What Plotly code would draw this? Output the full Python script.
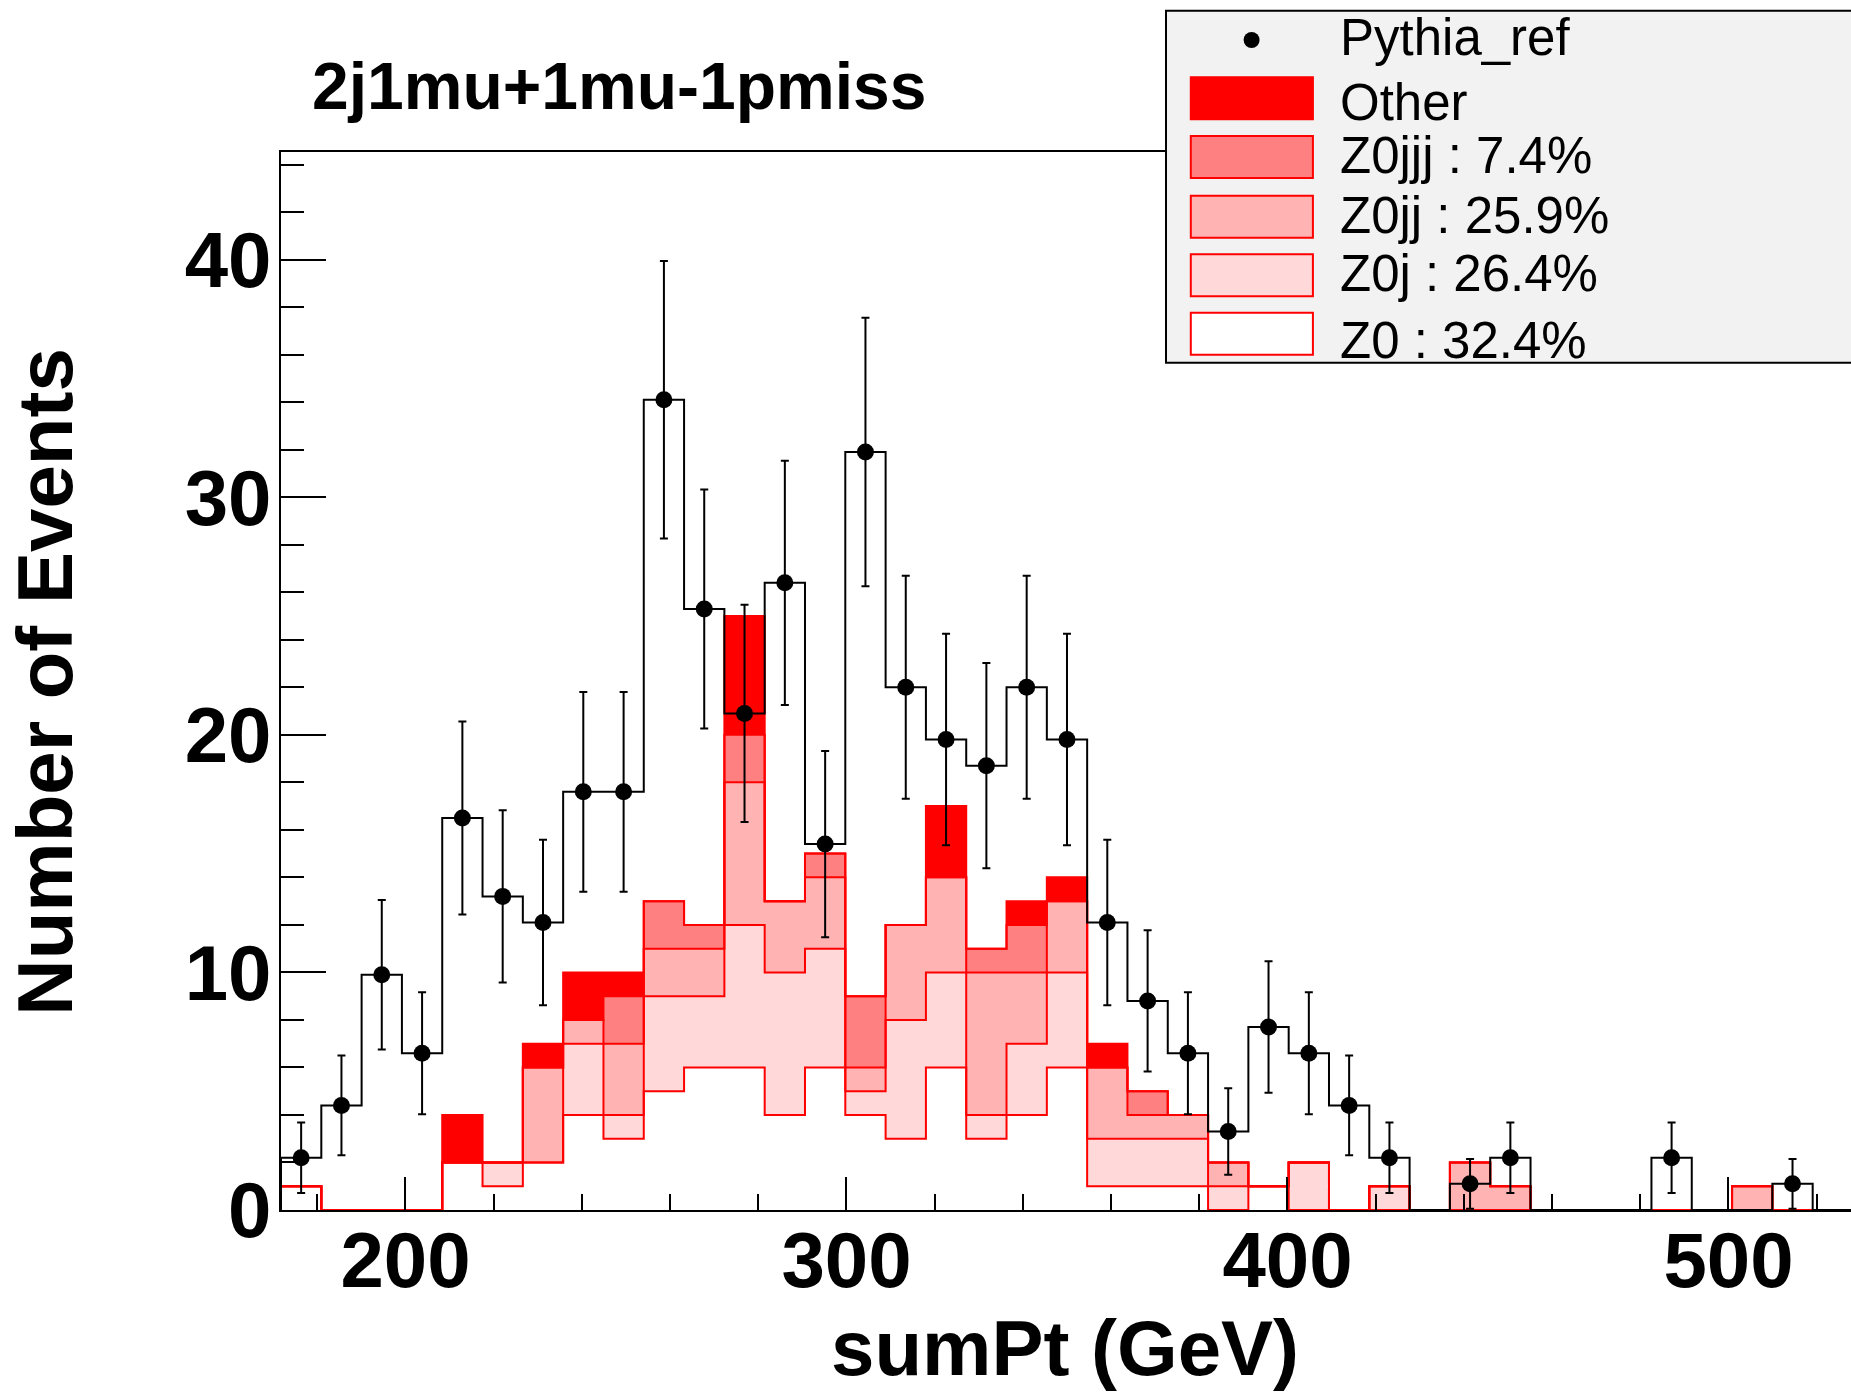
import plotly.graph_objects as go

# ---------------- data ----------------
bin_lo = 171.77          # left edge of first bin (GeV)
bin_w = 9.14             # bin width (GeV)
n_bins = 39

# Pythia_ref (data points) per bin
data_vals = [2.2, 4.4, 9.9, 6.6, 16.5, 13.2, 12.1, 17.6, 17.6, 34.1,
             25.3, 20.9, 26.4, 15.4, 31.9, 22.0, 19.8, 18.7, 22.0, 19.8,
             12.1, 8.8, 6.6, 3.3, 7.7, 6.6, 4.4, 2.2, 0.0, 1.1,
             2.2, 0.0, 0.0, 0.0, 2.2, 0.0, 0.0, 1.1, 0.0]
data_errs = [1.48, 2.10, 3.15, 2.57, 4.06, 3.63, 3.48, 4.20, 4.20, 5.84,
             5.03, 4.57, 5.14, 3.92, 5.65, 4.69, 4.45, 4.32, 4.69, 4.45,
             3.48, 2.97, 2.57, 1.82, 2.77, 2.57, 2.10, 1.48, 0.0, 1.05,
             1.48, 0.0, 0.0, 0.0, 1.48, 0.0, 0.0, 1.05, 0.0]

# stacked MC components per bin
z0 = [1, 0, 0, 0, 2, 1, 2, 4, 3, 5,
      6, 6, 4, 6, 4, 3, 6, 3, 4, 6,
      1, 1, 1, 0, 1, 0, 0, 0, 0, 0,
      0, 0, 0, 0, 0, 0, 0, 0, 0]
z0j = [0, 0, 0, 0, 0, 1, 0, 3, 1, 4,
       3, 6, 6, 5, 1, 5, 4, 1, 3, 4,
       2, 2, 2, 1, 0, 2, 0, 1, 0, 0,
       0, 0, 0, 0, 0, 0, 0, 0, 0]
z0jj = [0, 0, 0, 0, 0, 0, 4, 1, 3, 2,
        2, 6, 3, 3, 1, 4, 4, 6, 3, 3,
        3, 1, 1, 1, 0, 0, 0, 0, 0, 2,
        1, 0, 0, 0, 0, 0, 1, 0, 0]
z0jjj = [0, 0, 0, 0, 0, 0, 0, 0, 2, 2,
         1, 2, 0, 1, 3, 0, 0, 1, 2, 0,
         0, 1, 0, 0, 0, 0, 0, 0, 0, 0,
         0, 0, 0, 0, 0, 0, 0, 0, 0]
other = [0, 0, 0, 0, 2, 0, 1, 2, 1, 0,
         0, 5, 0, 0, 0, 0, 3, 0, 1, 1,
         1, 0, 0, 0, 0, 0, 0, 0, 0, 0,
         0, 0, 0, 0, 0, 0, 0, 0, 0]

layer_values = [z0, z0j, z0jj, z0jjj, other]
layer_colors = ["#FFFFFF", "#FFD9D9", "#FFB3B3", "#FF8080", "#FF0000"]

legend_labels = ["Pythia_ref", "Other", "Z0jjj : 7.4%", "Z0jj : 25.9%",
                 "Z0j : 26.4%", "Z0 : 32.4%"]
legend_box_colors = ["#FF0000", "#FF8080", "#FFB3B3", "#FFD9D9", "#FFFFFF"]

title_text = "2j1mu+1mu-1pmiss"
x_title = "sumPt (GeV)"
y_title = "Number of Events"

# ---------------- geometry ----------------
W, H = 1851, 1394
L, R, T, B = 281, 0, 152, 184
plot_w = W - L - R
plot_h = H - T - B
x_range = [171.77, 527.78]
y_range = [0, 44.53]

FONT = "Liberation Sans, Arial, Helvetica, sans-serif"


def pxx(xp):
    return (xp - L) / plot_w


def pxy(yp):
    return (H - B - yp) / plot_h


edges = [bin_lo + i * bin_w for i in range(n_bins + 1)]
centers = [bin_lo + (i + 0.5) * bin_w for i in range(n_bins)]


def step_xy(vals):
    xs = [edges[0]] + edges + [edges[-1]]
    ys = [0] + list(vals) + [vals[-1], 0]
    return xs, ys[: len(xs)]


# cumulative stacks
cums = []
run = [0] * n_bins
for lv in layer_values:
    run = [a + b for a, b in zip(run, lv)]
    cums.append(run)

fig = go.Figure()

# fills: largest cumulative first
for cum, col in reversed(list(zip(cums, layer_colors))):
    xs, ys = step_xy(cum)
    fig.add_trace(go.Scatter(x=xs, y=ys, mode="lines",
                             line=dict(width=0, shape="hv"),
                             fill="tozeroy", fillcolor=col,
                             hoverinfo="skip", showlegend=False))
# outlines
for cum in reversed(cums):
    xs, ys = step_xy(cum)
    fig.add_trace(go.Scatter(x=xs, y=ys, mode="lines",
                             line=dict(width=2, color="#FF0000", shape="hv"),
                             hoverinfo="skip", showlegend=False))

# data histogram outline
xs, ys = step_xy(data_vals)
fig.add_trace(go.Scatter(x=xs, y=ys, mode="lines",
                         line=dict(width=2, color="black", shape="hv"),
                         hoverinfo="skip", showlegend=False))

# data points with errors (non-empty bins only)
px_, py_, pe_ = [], [], []
for c, v, e in zip(centers, data_vals, data_errs):
    if v > 0:
        px_.append(c)
        py_.append(v)
        pe_.append(e)
fig.add_trace(go.Scatter(x=px_, y=py_, mode="markers",
                         marker=dict(size=17, color="black"),
                         error_y=dict(type="data", array=pe_, visible=True,
                                      color="black", thickness=2, width=4),
                         cliponaxis=False, showlegend=False))

# ---------------- legend (drawn manually) ----------------
shapes = []
shapes.append(dict(type="rect", xref="paper", yref="paper",
                   x0=pxx(1166), x1=pxx(1900), y0=pxy(362.7), y1=pxy(10.8),
                   fillcolor="#F2F2F2", line=dict(color="black", width=2),
                   layer="above"))
r = 8
shapes.append(dict(type="circle", xref="paper", yref="paper",
                   x0=pxx(1251.6 - r), x1=pxx(1251.6 + r),
                   y0=pxy(40 + r), y1=pxy(40 - r),
                   fillcolor="black", line=dict(color="black", width=0),
                   layer="above"))
box_tops = [77.3, 136.0, 195.7, 254.3, 312.7]
box_h = 42.0
for top, col in zip(box_tops, legend_box_colors):
    shapes.append(dict(type="rect", xref="paper", yref="paper",
                       x0=pxx(1190.8), x1=pxx(1312.9),
                       y0=pxy(top + box_h), y1=pxy(top),
                       fillcolor=col, line=dict(color="#FF0000", width=2),
                       layer="above"))

annotations = []
leg_baselines = [55.0, 120.7, 173.3, 233.3, 291.7, 358.3]
leg_size = 51
for lab, bl in zip(legend_labels, leg_baselines):
    annotations.append(dict(text=lab, xref="paper", yref="paper",
                            x=pxx(1337.5), y=pxy(bl - 0.35 * leg_size),
                            xanchor="left", yanchor="middle", showarrow=False,
                            font=dict(family=FONT, size=leg_size, color="black")))

# title
t_size = 66
annotations.append(dict(text=title_text, xref="paper", yref="paper",
                        x=pxx(310), y=pxy(109.3 - 0.35 * t_size),
                        xanchor="left", yanchor="middle", showarrow=False,
                        font=dict(family=FONT, size=t_size, color="black",
                                  weight="bold")))
# axis titles
a_size = 78
annotations.append(dict(text=x_title, xref="paper", yref="paper",
                        x=pxx(1065), y=pxy(1375.7 - 0.35 * a_size),
                        xanchor="center", yanchor="middle", showarrow=False,
                        font=dict(family=FONT, size=a_size, color="black",
                                  weight="bold")))
annotations.append(dict(text=y_title, xref="paper", yref="paper",
                        x=pxx(72 - 0.35 * a_size), y=pxy(682),
                        xanchor="center", yanchor="middle", showarrow=False,
                        textangle=-90,
                        font=dict(family=FONT, size=a_size, color="black",
                                  weight="bold")))

tickfont = dict(family=FONT, size=78, color="black", weight="bold")

fig.update_layout(
    width=W, height=H,
    margin=dict(l=L, r=R, t=T, b=B, pad=0),
    paper_bgcolor="white", plot_bgcolor="white",
    showlegend=False,
    shapes=shapes, annotations=annotations,
    xaxis=dict(range=x_range, showgrid=False, zeroline=False,
               showline=True, linecolor="black", linewidth=2, mirror=True,
               tickmode="linear", tick0=0, dtick=100,
               ticks="inside", ticklen=33, tickwidth=2, tickcolor="black",
               ticklabelstandoff=-19,
               minor=dict(tickmode="linear", tick0=0, dtick=20,
                          ticks="inside", ticklen=16, tickwidth=2,
                          tickcolor="black"),
               tickfont=tickfont),
    yaxis=dict(range=y_range, showgrid=False, zeroline=False,
               showline=True, linecolor="black", linewidth=2, mirror=False,
               tickmode="linear", tick0=0, dtick=10,
               ticks="inside", ticklen=45, tickwidth=2, tickcolor="black",
               ticklabelstandoff=-8,
               minor=dict(tickmode="linear", tick0=0, dtick=2,
                          ticks="inside", ticklen=23, tickwidth=2,
                          tickcolor="black"),
               tickfont=tickfont),
)

fig.write_html(
    "out.html",
    config={"displayModeBar": False},
    post_script="document.body.style.margin='0px';"
                "document.body.style.overflow='hidden';",
)
